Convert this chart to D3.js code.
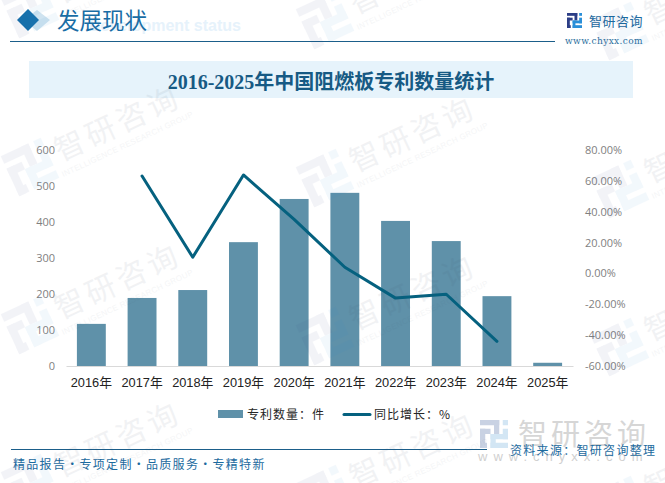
<!DOCTYPE html>
<html>
<head>
<meta charset="utf-8">
<script src="https://cdn.jsdelivr.net/npm/d3@7"></script>
<style>
  html, body { margin: 0; padding: 0; background: #fff; }
  svg { display: block; }
</style>
</head>
<body>
<div id="chart"></div>
<script>
const years = ['2016年', '2017年', '2018年', '2019年', '2020年', '2021年', '2022年', '2023年', '2024年', '2025年'];
const patents = [117, 189, 211, 344, 464, 481, 403, 347, 194, 9];
const growth = [null, 63.1, 10.5, 63.8, 35, 4, -16, -13.5, -44, null];
const leftTicks = [0, 100, 200, 300, 400, 500, 600];
const rightTicks = [-60, -40, -20, 0, 20, 40, 60, 80];

const width = 665;
const height = 483;
const margin = {top: 150, right: 92, bottom: 117, left: 66};
const sans = '"Liberation Sans", "Noto Sans CJK SC", sans-serif';
const tickFont = '"Open Sans", sans-serif';
const cjk = '"Noto Sans CJK SC", sans-serif';
const serif = '"Liberation Serif", "Noto Sans CJK SC", serif';

const svg = d3.select('#chart').append('svg').attr('width', width).attr('height', height);

// the company mark, 16 units square
const markLeft = [[0, 0, 11, 3], [8, 0, 3, 8], [0, 5, 6, 3], [0, 5, 3, 11], [0, 13, 4, 3]];
const markRight = [[13, 0, 3, 3], [13, 5, 3, 6], [6, 8, 10, 3], [6, 8, 3, 8], [6, 13, 10, 3]];

const drawMark = (parent, size, leftColor, rightColor) => {
  const k = size / 16;
  parent.selectAll('.l').data(markLeft).join('rect').attr('class', 'l')
    .attr('x', d => d[0] * k).attr('y', d => d[1] * k)
    .attr('width', d => d[2] * k).attr('height', d => d[3] * k).attr('fill', leftColor);
  parent.selectAll('.r').data(markRight).join('rect').attr('class', 'r')
    .attr('x', d => d[0] * k).attr('y', d => d[1] * k)
    .attr('width', d => d[2] * k).attr('height', d => d[3] * k).attr('fill', rightColor);
};

// header
svg.append('path').attr('d', 'M24 20 L37 10 L50 20 L37 31 Z').attr('fill', '#cfe3f0');
svg.append('path').attr('d', 'M17 20 L28 9 L39 20 L28 31 Z').attr('fill', '#1670ab');
svg.append('text').attr('x', 241).attr('y', 31).attr('text-anchor', 'end').attr('font-size', 16).attr('font-weight', 'bold')
  .attr('font-family', sans).attr('fill', '#e6f2fb').text('Development status');
svg.append('text').attr('x', 57).attr('y', 29).attr('font-size', 22.5).attr('font-family', cjk)
  .attr('fill', '#1a6da5').text('发展现状');
svg.append('line').attr('x1', 10).attr('x2', 555).attr('y1', 41.5).attr('y2', 41.5)
  .attr('stroke', '#1b5e8a').attr('stroke-width', 1);

// logo
drawMark(svg.append('g').attr('transform', 'translate(567,13)'), 15, '#2c3e86', '#2a8fd8');
svg.append('text').attr('x', 589).attr('y', 26).attr('font-size', 13).attr('letter-spacing', 0.5)
  .attr('font-family', cjk).attr('fill', '#1c6a9e').text('智研咨询');
svg.append('text').attr('x', 565).attr('y', 44).attr('font-size', 9).attr('letter-spacing', 0.4)
  .attr('font-family', '"DejaVu Serif", serif').attr('fill', '#2c6f9e').text('www.chyxx.com');

// title band
svg.append('rect').attr('x', 29).attr('y', 61).attr('width', 604).attr('height', 37).attr('fill', '#e6f3fb');
svg.append('text').attr('x', 331).attr('y', 89).attr('text-anchor', 'middle').attr('font-size', 20)
  .attr('font-weight', 'bold').attr('font-family', serif).attr('fill', '#165a84')
  .text('2016-2025年中国阻燃板专利数量统计');

// scales
const x = d3.scaleBand().domain(years).range([margin.left, width - margin.right]).paddingInner(0.43).paddingOuter(0.215);
const yLeft = d3.scaleLinear().domain([0, 600]).range([height - margin.bottom, margin.top]);
const yRight = d3.scaleLinear().domain([-60, 80]).range([height - margin.bottom, margin.top]);

// bars
svg.selectAll('.bar').data(years).join('rect')
  .attr('class', 'bar')
  .attr('x', d => x(d))
  .attr('width', x.bandwidth())
  .attr('y', (d, i) => yLeft(patents[i]))
  .attr('height', (d, i) => yLeft(0) - yLeft(patents[i]))
  .attr('fill', '#5f91a9');

// axes
const xAxis = svg.append('g').attr('transform', `translate(0,${height - margin.bottom})`)
  .call(d3.axisBottom(x).tickSize(0).tickPadding(12));
xAxis.select('.domain').attr('stroke', '#d9d9d9').attr('stroke-width', 1);
xAxis.selectAll('text').attr('font-size', 12.8).attr('font-family', sans).attr('fill', '#222');

const leftAxis = svg.append('g').attr('transform', `translate(${margin.left - 11},0)`)
  .call(d3.axisLeft(yLeft).tickValues(leftTicks).tickSize(0).tickPadding(0));
leftAxis.select('.domain').remove();
leftAxis.selectAll('text').attr('font-size', 11).attr('font-family', tickFont).attr('fill', '#7f7f7f');

const rightAxis = svg.append('g').attr('transform', `translate(${width - margin.right + 12},0)`)
  .call(d3.axisRight(yRight).tickValues(rightTicks).tickSize(0).tickPadding(0).tickFormat(d => d.toFixed(2) + '%'));
rightAxis.select('.domain').remove();
rightAxis.selectAll('text').attr('font-size', 11).attr('font-family', tickFont).attr('fill', '#7f7f7f');

// line
const line = d3.line()
  .defined(d => d !== null)
  .x((d, i) => x(years[i]) + x.bandwidth() / 2)
  .y(d => yRight(d));
svg.append('path').datum(growth).attr('d', line).attr('fill', 'none')
  .attr('stroke', '#05617f').attr('stroke-width', 3).attr('stroke-linecap', 'round').attr('stroke-linejoin', 'round');

// legend
const legend = svg.append('g').attr('font-family', cjk).attr('font-size', 12).attr('fill', '#262626');
legend.append('rect').attr('x', 218).attr('y', 410).attr('width', 25).attr('height', 8).attr('fill', '#5f91a9');
legend.append('text').attr('x', 247).attr('y', 418.5).attr('letter-spacing', 1).text('专利数量：件');
legend.append('line').attr('x1', 344).attr('x2', 370).attr('y1', 414.5).attr('y2', 414.5)
  .attr('stroke', '#05617f').attr('stroke-width', 3).attr('stroke-linecap', 'round');
legend.append('text').attr('x', 374).attr('y', 418.5).attr('letter-spacing', 1).text('同比增长：%');

// big grey stamp behind the source line
drawMark(svg.append('g').attr('transform', 'translate(480,420)'), 28, '#c9d2e3', '#d3e6f4');
svg.append('text').attr('x', 518).attr('y', 445).attr('font-size', 29).attr('letter-spacing', 4)
  .attr('font-family', cjk).attr('fill', '#d6d6d6').text('智研咨询');
svg.append('text').attr('x', 478).attr('y', 461).attr('font-size', 13).attr('letter-spacing', 6)
  .attr('font-family', sans).attr('fill', '#d0d0d0').text('www.chyxx.com');

// footer
svg.append('line').attr('x1', 11).attr('x2', 487).attr('y1', 449.5).attr('y2', 449.5)
  .attr('stroke', '#1b5e8a').attr('stroke-width', 1);
svg.append('text').attr('x', 13).attr('y', 469).attr('font-size', 12).attr('letter-spacing', 1.3)
  .attr('font-family', cjk).attr('fill', '#1c6a9e').text('精品报告·专项定制·品质服务·专精特新');
svg.append('text').attr('x', 510).attr('y', 455).attr('font-size', 12).attr('letter-spacing', 1.3)
  .attr('font-family', cjk).attr('fill', '#1c6a9e').text('资料来源：智研咨询整理');

// watermark sits over everything, very faint
const wm = svg.append('g').style('pointer-events', 'none');
d3.range(3).forEach((col) => {
  d3.range(-1, 3).forEach((row) => {
    const lx = 30 + col * 295;
    const ly = 167 + col * 11 + row * 158;
    const mark = wm.append('g').attr('opacity', 0.055)
      .attr('transform', `translate(${lx},${ly}) rotate(-25) translate(-22,-22)`);
    drawMark(mark, 44, '#2c3e86', '#2a8fd8');
    const g = wm.append('g').attr('transform', `translate(${lx + 88},${ly - 43}) rotate(-25)`);
    g.append('text').attr('y', 10).attr('text-anchor', 'middle').attr('font-size', 30).attr('letter-spacing', 4)
      .attr('font-family', cjk).attr('fill', '#3b4a63').attr('opacity', 0.065).text('智研咨询');
    g.append('text').attr('y', 25).attr('text-anchor', 'middle').attr('font-size', 8).attr('letter-spacing', 0.3)
      .attr('font-family', sans).attr('fill', '#3b4a63').attr('opacity', 0.05).text('INTELLIGENCE RESEARCH GROUP');
  });
});
</script>
</body>
</html>
